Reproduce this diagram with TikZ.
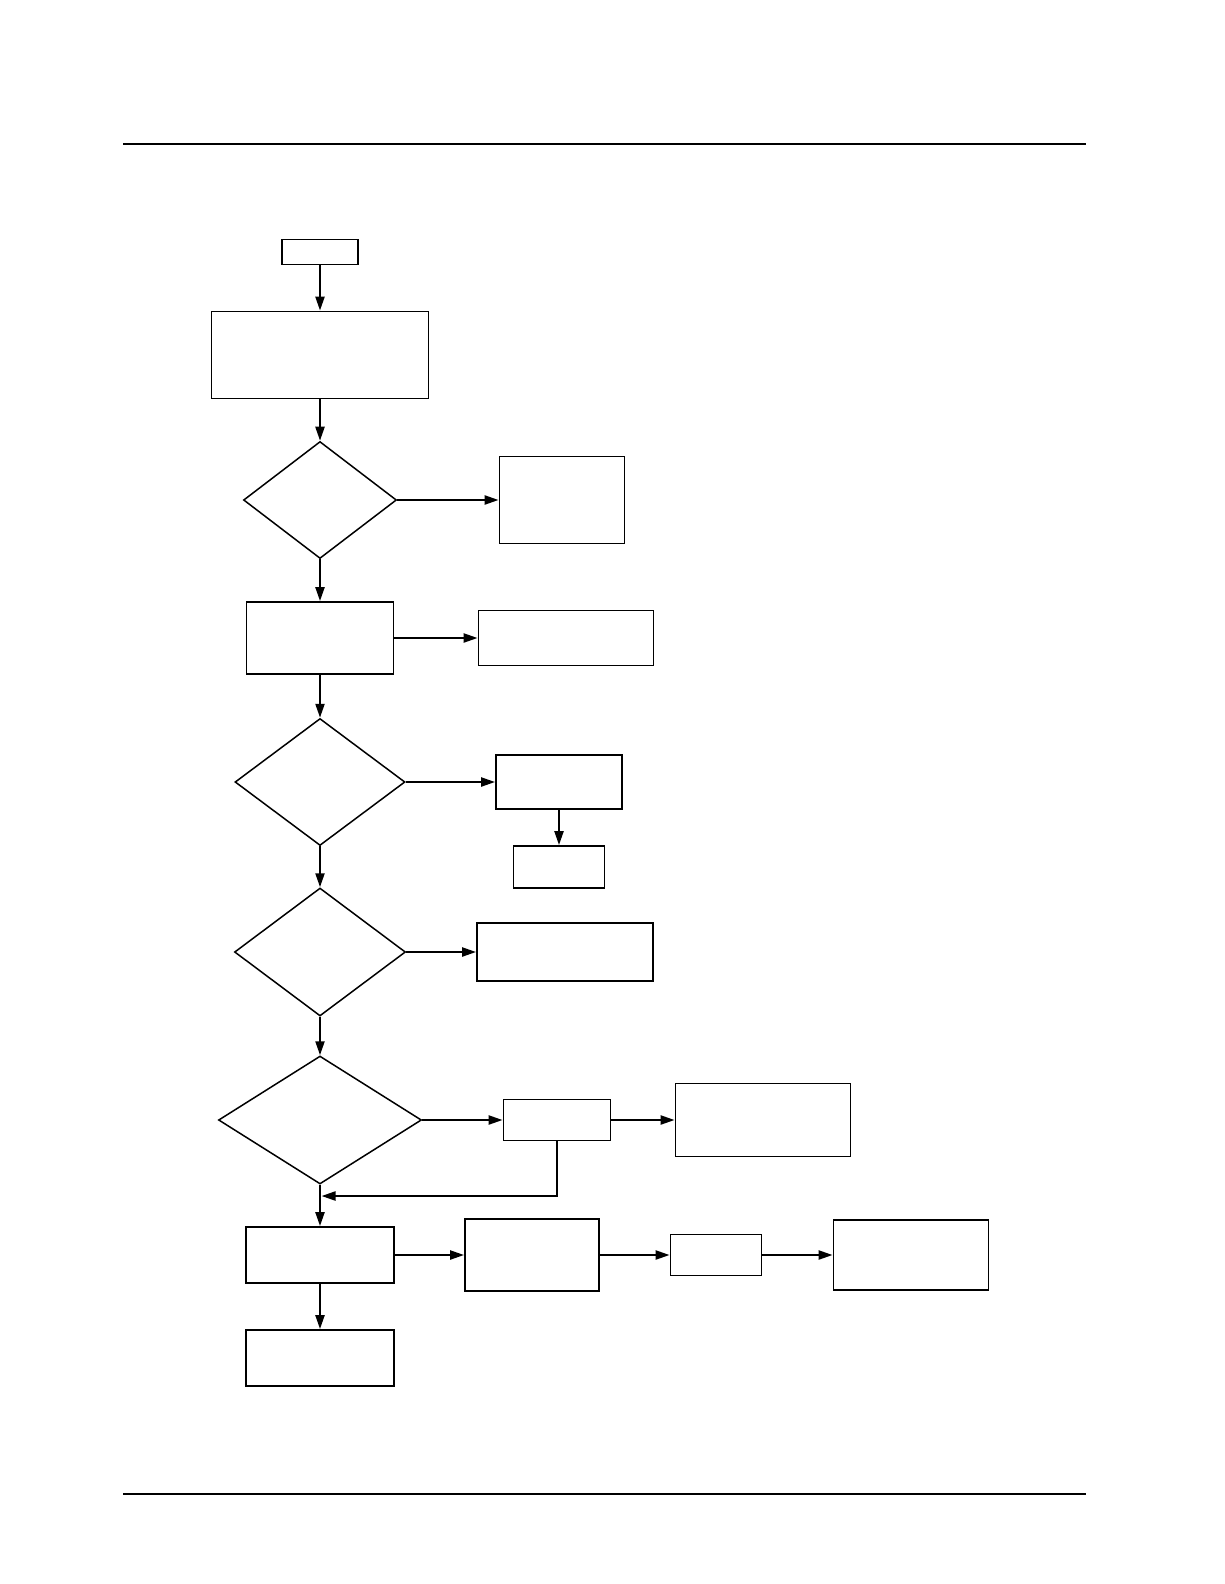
\documentclass[tikz,border=0pt]{standalone}
\usetikzlibrary{shapes.geometric,arrows.meta}
\begin{document}
\begin{tikzpicture}[x=1pt,y=-1pt,
    flowBoxFC/.style={draw=black,line width=1.8pt,rectangle,inner sep=0pt},
    flowDecFC/.style={draw=black,line width=1.5pt,diamond,inner sep=0pt},
    flowArrFC/.style={line width=2.2pt,-{Triangle[length=14pt,width=9pt]}},
    flowRuleFC/.style={line width=2.5pt},
]
\useasboundingbox (0,0) rectangle (1224,1584);
% Page rules
\draw[flowRuleFC] (123,144) -- (1086,144);
\draw[flowRuleFC] (123,1494) -- (1086,1494);
% Main column
\node[flowBoxFC,minimum width=76pt,minimum height=25pt] (start) at (320,252) {};
\node[flowBoxFC,minimum width=217pt,minimum height=87pt] (setup) at (320,355) {};
\node[flowDecFC,minimum width=153pt,minimum height=117pt] (dec1) at (320,500) {};
\node[flowBoxFC,minimum width=147pt,minimum height=72pt] (step1) at (320,638) {};
\node[flowDecFC,minimum width=170pt,minimum height=127pt] (dec2) at (320,782) {};
\node[flowDecFC,minimum width=171pt,minimum height=128pt] (dec3) at (320,952) {};
\node[flowDecFC,minimum width=203pt,minimum height=128pt] (dec4) at (320,1120) {};
\node[flowBoxFC,minimum width=148pt,minimum height=56pt] (step2) at (320,1255) {};
\node[flowBoxFC,minimum width=148pt,minimum height=56pt] (finish) at (320,1358) {};
% Side branches
\node[flowBoxFC,minimum width=125pt,minimum height=87pt] (side1) at (562,500) {};
\node[flowBoxFC,minimum width=175pt,minimum height=55pt] (side2) at (566,638) {};
\node[flowBoxFC,minimum width=126pt,minimum height=54pt] (side3) at (559,782) {};
\node[flowBoxFC,minimum width=91pt,minimum height=42pt] (side3b) at (559,867) {};
\node[flowBoxFC,minimum width=176pt,minimum height=58pt] (side4) at (565,952) {};
\node[flowBoxFC,minimum width=107pt,minimum height=41pt] (side5) at (557,1120) {};
\node[flowBoxFC,minimum width=175pt,minimum height=73pt] (side5b) at (763,1120) {};
% Bottom row
\node[flowBoxFC,minimum width=134pt,minimum height=72pt] (row1) at (532,1255) {};
\node[flowBoxFC,minimum width=91pt,minimum height=41pt] (row2) at (716,1255) {};
\node[flowBoxFC,minimum width=155pt,minimum height=70pt] (row3) at (911,1255) {};
\coordinate (joinFC) at (321.5,1196);
% Connectors
\draw[flowArrFC] (start) -- (setup);
\draw[flowArrFC] (setup) -- (dec1);
\draw[flowArrFC] (dec1) -- (step1);
\draw[flowArrFC] (step1) -- (dec2);
\draw[flowArrFC] (dec2) -- (dec3);
\draw[flowArrFC] (dec3) -- (dec4);
\draw[flowArrFC] (dec4) -- (step2);
\draw[flowArrFC] (step2) -- (finish);
\draw[flowArrFC] (dec1) -- (side1);
\draw[flowArrFC] (step1) -- (side2);
\draw[flowArrFC] (dec2) -- (side3);
\draw[flowArrFC] (side3) -- (side3b);
\draw[flowArrFC] (dec3) -- (side4);
\draw[flowArrFC] (dec4) -- (side5);
\draw[flowArrFC] (side5) -- (side5b);
\draw[flowArrFC] (side5.south) |- (joinFC);
\draw[flowArrFC] (step2) -- (row1);
\draw[flowArrFC] (row1) -- (row2);
\draw[flowArrFC] (row2) -- (row3);
\end{tikzpicture}
\end{document}
